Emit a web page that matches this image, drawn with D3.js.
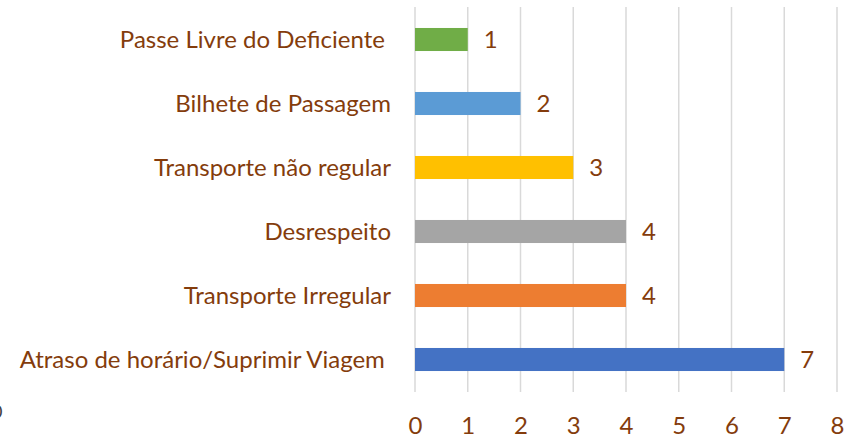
<!DOCTYPE html>
<html>
<head>
<meta charset="utf-8">
<script src="https://cdn.jsdelivr.net/npm/d3@7"></script>
<style>
  body { margin: 0; background: #fff; }
  svg text { font-family: Lato, "Open Sans", sans-serif; white-space: pre; }
</style>
</head>
<body>
<svg></svg>
<script>
// categories top to bottom, as they appear in the chart
const categories = [
    "Passe Livre do Deficiente ",
    "Bilhete de Passagem",
    "Transporte não regular",
    "Desrespeito",
    "Transporte Irregular",
    "Atraso de horário/Suprimir Viagem "
];
const values = [1, 2, 3, 4, 4, 7];
const colors = ["#70AD47", "#5B9BD5", "#FFC000", "#A5A5A5", "#ED7D31", "#4472C4"];
const xTicks = [0, 1, 2, 3, 4, 5, 6, 7, 8];

const width = 845, height = 435;
const textColor = "#843C0C";

const svg = d3.select("svg")
    .attr("width", width)
    .attr("height", height);

const x = d3.scaleLinear()
    .domain([0, 8])
    .range([415, 837]);

const y = d3.scaleBand()
    .domain(categories)
    .range([7.5, 391.5])
    .paddingInner(0.64)
    .paddingOuter(0.32);

// vertical gridlines
svg.append("g")
    .selectAll("line")
    .data(xTicks)
    .enter().append("line")
    .attr("x1", d => x(d))
    .attr("x2", d => x(d))
    .attr("y1", 7)
    .attr("y2", 392)
    .attr("stroke", "#D9D9D9")
    .attr("stroke-width", 1.5);

// bars
svg.append("g")
    .selectAll("rect")
    .data(values)
    .enter().append("rect")
    .attr("x", x(0))
    .attr("y", (d, i) => y(categories[i]))
    .attr("width", d => x(d) - x(0))
    .attr("height", y.bandwidth())
    .attr("fill", (d, i) => colors[i]);

// value labels
svg.append("g")
    .selectAll("text")
    .data(values)
    .enter().append("text")
    .attr("x", d => x(d) + 16)
    .attr("y", (d, i) => y(categories[i]) + y.bandwidth() / 2)
    .attr("dy", "0.36em")
    .attr("fill", textColor)
    .style("font-size", "24px")
    .text(d => d);

// category axis labels
svg.append("g")
    .selectAll("text")
    .data(categories)
    .enter().append("text")
    .attr("x", 391)
    .attr("y", d => y(d) + y.bandwidth() / 2)
    .attr("dy", "0.36em")
    .attr("text-anchor", "end")
    .attr("fill", textColor)
    .style("font-size", "24px")
    .text(d => d);

// x axis tick labels
const xAxis = svg.append("g")
    .attr("transform", "translate(0,434)")
    .call(d3.axisBottom(x).tickValues(xTicks).tickSize(0).tickPadding(0));
xAxis.select(".domain").remove();
xAxis.selectAll("text")
    .attr("y", 0)
    .attr("dy", 0)
    .attr("fill", textColor)
    .style("font-size", "24px")
    .style("font-family", "Lato, 'Open Sans', sans-serif");

// clipped fragment at the left edge
svg.append("text")
    .attr("x", -8)
    .attr("y", 418)
    .attr("fill", "#404040")
    .style("font-size", "18px")
    .text("0");
</script>
</body>
</html>
